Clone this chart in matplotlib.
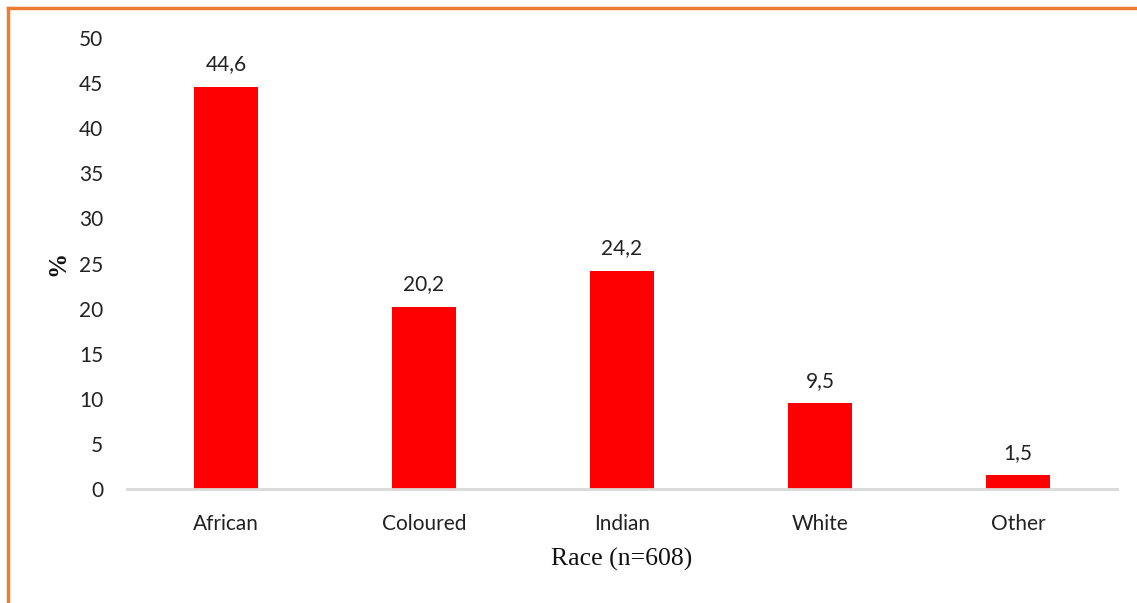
import matplotlib.pyplot as plt
from matplotlib.lines import Line2D

categories = ["African", "Coloured", "Indian", "White", "Other"]
percent = [44.6, 20.2, 24.2, 9.5, 1.5]
yticks = [0, 5, 10, 15, 20, 25, 30, 35, 40, 45, 50]

fig = plt.figure(figsize=(11.37, 6.03), dpi=100)
ax = fig.add_axes([127 / 1137, 1 - 489 / 603, 990 / 1137, 451 / 603])

x = range(len(categories))
bars = ax.bar(x, percent, width=0.32, color="#ff0000", zorder=2)
for b, v in zip(bars, percent):
    ax.text(b.get_x() + b.get_width() / 2, v + 1.4, f"{v:.1f}".replace(".", ","),
            ha="center", va="bottom", fontsize=15, family="Lato", color="#222222")

ax.set_xlim(-0.5, 4.5)
ax.set_ylim(0, 50)
ax.set_yticks(yticks)
ax.set_xticks(list(x))
ax.set_xticklabels(categories)
ax.tick_params(axis="both", length=0, labelsize=15, colors="#222222")
ax.tick_params(axis="y", pad=17)
ax.tick_params(axis="x", pad=18)
for lbl in ax.get_xticklabels() + ax.get_yticklabels():
    lbl.set_family("Lato")

for side in ["top", "right", "left"]:
    ax.spines[side].set_visible(False)
ax.spines["bottom"].set_color("#d9d9d9")
ax.spines["bottom"].set_linewidth(2)

ax.set_xlabel("Race (n=608)", family="Liberation Serif", fontsize=18.5, labelpad=10, color="#111111")
ax.set_ylabel("%", family="Liberation Serif", fontsize=18, fontweight="bold", color="#111111")
ax.yaxis.set_label_coords(-58 / 990, 0.5)

# orange frame along top and left edges
fig.add_artist(Line2D([8 / 1137, 1], [1 - 8 / 603] * 2, transform=fig.transFigure, color="#ed7d31", lw=2.5))
fig.add_artist(Line2D([8 / 1137] * 2, [0, 1 - 8 / 603], transform=fig.transFigure, color="#ed7d31", lw=2.5))

fig.savefig("out.png", dpi=100)
